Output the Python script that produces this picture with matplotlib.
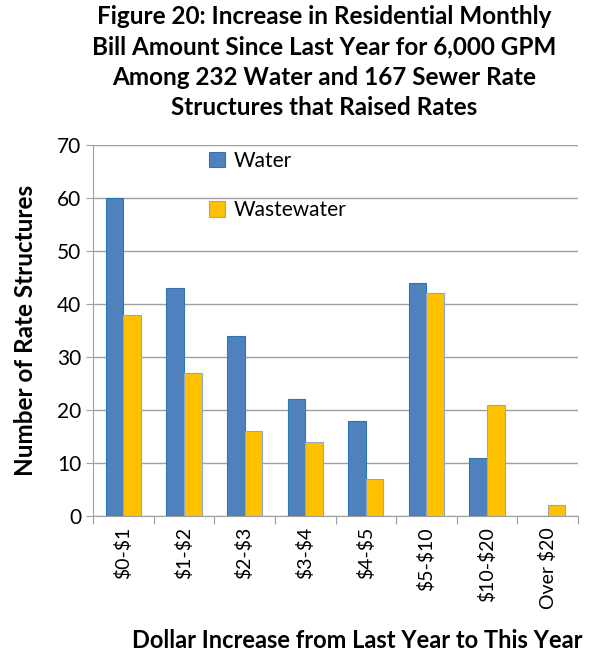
import matplotlib
matplotlib.use("Agg")
import matplotlib.pyplot as plt
import numpy as np

categories = [r"\$0-\$1", r"\$1-\$2", r"\$2-\$3", r"\$3-\$4", r"\$4-\$5", r"\$5-\$10", r"\$10-\$20", r"Over \$20"]
water = [60, 43, 34, 22, 18, 44, 11, 0]
wastewater = [38, 27, 16, 14, 7, 42, 21, 2]

plt.rcParams["font.family"] = ["Lato", "DejaVu Sans"]

fig = plt.figure(figsize=(5.94, 6.54), dpi=100)
ax = fig.add_axes([93 / 594, 1 - 516 / 654, (578 - 93) / 594, (516 - 145) / 654])

x = np.arange(len(categories))
w = 0.29
blue = "#4F81BD"
gold = "#FFC000"
ax.bar(x - w / 2, water, w, color=blue, edgecolor="#2E75B6", linewidth=0.8, label="Water", zorder=3)
ax.bar(x + w / 2, wastewater, w, color=gold, edgecolor="#8EA9C8", linewidth=0.8, label="Wastewater", zorder=3)

ax.set_xlim(-0.5, len(categories) - 0.5)
ax.set_ylim(0, 70)
ax.set_yticks(range(0, 71, 10))
ax.yaxis.grid(True, color="#A0A0A0", linewidth=1)
ax.set_axisbelow(True)
for s in ["top", "right"]:
    ax.spines[s].set_visible(False)
for s in ["left", "bottom"]:
    ax.spines[s].set_color("#A0A0A0")
ax.set_xticks(np.arange(len(categories) + 1) - 0.5, minor=False)
ax.set_xticklabels([])
ax.set_xticks(x, minor=True)
ax.set_xticklabels(categories, minor=True, rotation=90, fontsize=14)
ax.tick_params(axis="x", which="major", length=6, color="#A0A0A0", direction="out")
ax.tick_params(axis="x", which="minor", length=0, pad=8)
ax.tick_params(axis="y", length=5, color="#A0A0A0", labelsize=15)

ax.set_ylabel("Number of Rate Structures", fontsize=17.5, fontweight="bold", labelpad=14)
ax.set_xlabel("Dollar Increase from Last Year to This Year", fontsize=17, fontweight="bold")
ax.xaxis.set_label_coords(0.545, -0.305)

ax.legend(loc="upper left", bbox_to_anchor=(0.2, 1.035), frameon=False, fontsize=15,
          labelspacing=1.4, handlelength=0.8, handleheight=0.8, handletextpad=0.4)

fig.suptitle("Figure 20: Increase in Residential Monthly\nBill Amount Since Last Year for 6,000 GPM\n"
             "Among 232 Water and 167 Sewer Rate\nStructures that Raised Rates",
             fontsize=17.5, fontweight="bold", x=0.545, y=0.993, linespacing=1.4)

fig.savefig("out.png", dpi=100)
